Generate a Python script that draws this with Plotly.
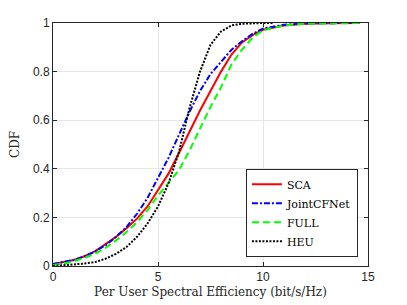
import plotly.graph_objects as go

x_main = [0, 0.5, 1, 1.5, 2, 2.5, 3, 3.5, 4, 4.5, 5, 5.5, 6, 6.5, 7, 7.5, 8, 8.5, 9, 9.5, 10, 11, 12, 13, 14, 14.6]
sca = [0.008, 0.015, 0.025, 0.04, 0.06, 0.09, 0.12, 0.155, 0.195, 0.245, 0.31, 0.38, 0.465, 0.555, 0.64, 0.72, 0.80, 0.87, 0.92, 0.95, 0.972, 0.99, 0.997, 0.999, 1.0, 1.0]
joint = [0.008, 0.015, 0.025, 0.04, 0.06, 0.085, 0.12, 0.16, 0.215, 0.28, 0.36, 0.445, 0.54, 0.635, 0.72, 0.79, 0.84, 0.89, 0.925, 0.955, 0.977, 0.993, 0.998, 1.0, 1.0, 1.0]
full = [0.004, 0.01, 0.02, 0.033, 0.05, 0.075, 0.105, 0.14, 0.18, 0.23, 0.29, 0.345, 0.395, 0.475, 0.565, 0.655, 0.735, 0.83, 0.89, 0.94, 0.97, 0.99, 0.997, 0.999, 1.0, 1.0]
x_heu = [0, 0.5, 1, 1.5, 2, 2.5, 3, 3.5, 4, 4.5, 5, 5.5, 6, 6.5, 7, 7.5, 8, 8.5, 9, 9.5, 10, 10.5]
heu = [0.0, 0.003, 0.006, 0.01, 0.016, 0.03, 0.05, 0.078, 0.12, 0.175, 0.245, 0.34, 0.47, 0.65, 0.80, 0.91, 0.965, 0.99, 0.997, 1.0, 1.0, 1.0]

x_ticks = [0, 5, 10, 15]
y_ticks = [0, 0.2, 0.4, 0.6, 0.8, 1]
y_tick_labels = ["0", "0.2", "0.4", "0.6", "0.8", "1"]

fig = go.Figure()
fig.add_trace(go.Scatter(x=x_main, y=sca, mode="lines", name="SCA",
                         line=dict(color="#ff0000", width=2)))
fig.add_trace(go.Scatter(x=x_main, y=joint, mode="lines", name="JointCFNet",
                         line=dict(color="#0000ff", width=2, dash="6px,2px,2px,2px")))
fig.add_trace(go.Scatter(x=x_main, y=full, mode="lines", name="FULL",
                         line=dict(color="#00ff00", width=2, dash="7px,4px")))
fig.add_trace(go.Scatter(x=x_heu, y=heu, mode="lines", name="HEU",
                         line=dict(color="#000000", width=2, dash="2px,1.5px")))

axis_common = dict(showgrid=True, gridcolor="#e6e6e6", gridwidth=1, automargin=False,
                   showline=True, linecolor="#262626", linewidth=1, mirror="ticks",
                   ticks="inside", ticklen=4, tickcolor="#262626",
                   zeroline=False, tickfont=dict(family="Liberation Sans, Arial", size=12, color="#262626"))

title_font = dict(family="DejaVu Serif", size=12, color="#262626")

fig.update_layout(
    width=399, height=297,
    margin=dict(l=45, r=39, t=15, b=39),
    paper_bgcolor="white", plot_bgcolor="white",
    xaxis=dict(range=[0, 15], tickvals=x_ticks,
               title=dict(text="Per User Spectral Efficiency (bit/s/Hz)", font=title_font, standoff=4),
               **axis_common),
    yaxis=dict(range=[0, 1], tickvals=y_ticks, ticktext=y_tick_labels,
               title=dict(text="CDF", font=title_font, standoff=10),
               **axis_common),
    legend=dict(x=0.968, y=0.038, xanchor="right", yanchor="bottom",
                bgcolor="white", bordercolor="#262626", borderwidth=1,
                font=dict(family="DejaVu Serif", size=11, color="#000000"),
                tracegroupgap=0, itemwidth=30),
    showlegend=True,
)

fig.write_html("out.html")
